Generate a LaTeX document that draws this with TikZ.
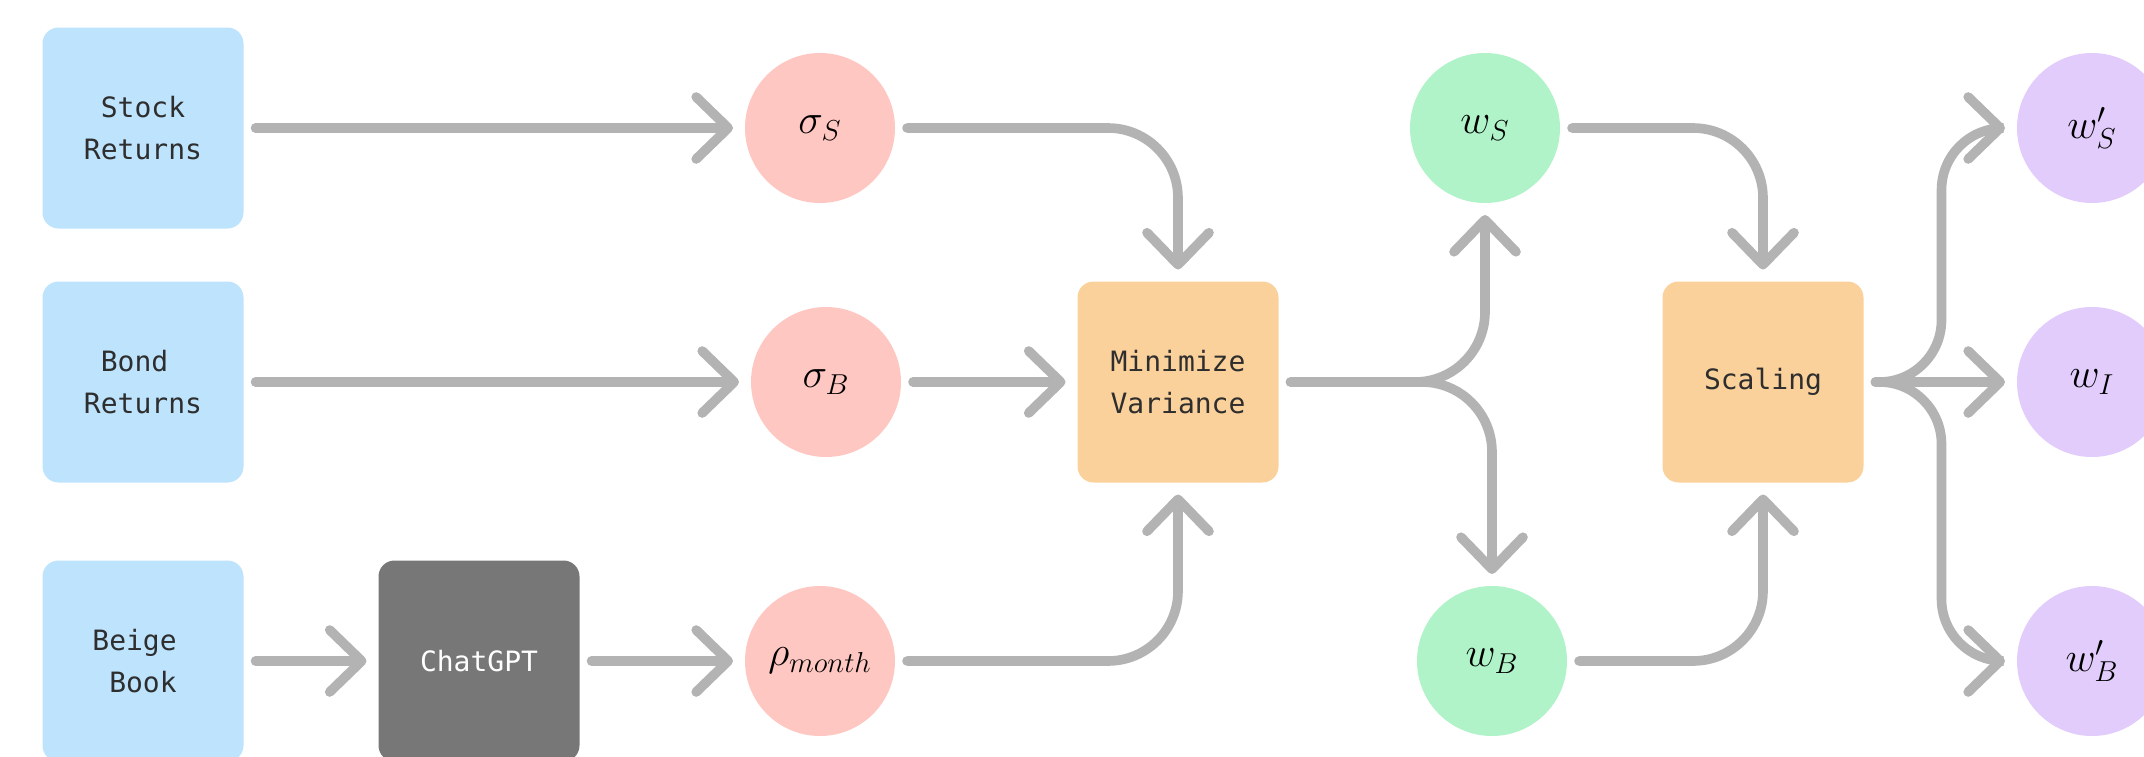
\documentclass[tikz,border=0pt]{standalone}
\usepackage{fontspec}
\setmonofont{DejaVu Sans Mono}
\usetikzlibrary{arrows.meta}
\definecolor{inblue}{HTML}{BDE3FD}
\definecolor{pinkc}{HTML}{FFC7C2}
\definecolor{orng}{HTML}{FBD19B}
\definecolor{grn}{HTML}{B0F3C9}
\definecolor{purp}{HTML}{E1CCFB}
\definecolor{arr}{HTML}{B3B3B3}
\definecolor{gptgray}{HTML}{777777}
\definecolor{txt}{HTML}{2E2E2E}
\begin{document}
\begin{tikzpicture}[x=0.5pt,y=-0.5pt,
  box/.style={rounded corners=8pt, minimum width=100.5pt, minimum height=100.5pt,
    outer sep=6pt, inner sep=0pt, align=center,
    font=\ttfamily\fontsize{14}{21}\selectfont, text=txt},
  circ/.style={circle, minimum size=75pt, inner sep=0pt, outer sep=6pt,
    font=\fontsize{22.5}{26}\selectfont},
  conn/.style={draw=arr, line width=4.8pt, line cap=round, rounded corners=35pt,
    -{Straight Barb[length=16pt,width=31pt,round]}},
  tight/.style={rounded corners=31pt}]
\useasboundingbox (0,0) rectangle (2144,756);
\node[box, fill=inblue] (stock) at (143,128) {Stock\\Returns};
\node[box, fill=inblue] (bond) at (143,382) {Bond\hphantom{x}\\Returns};
\node[box, fill=inblue] (beige) at (143,661) {Beige\hphantom{x}\\\hphantom{x}Book\hphantom{x}};
\node[box, fill=gptgray, text=white] (gpt) at (479,661) {ChatGPT};
\node[circ, fill=pinkc] (sS) at (820,128) {$\sigma_S$};
\node[circ, fill=pinkc] (sB) at (826,382) {$\sigma_B$};
\node[circ, fill=pinkc] (rho) at (820,661) {$\rho_{month}$};
\node[box, fill=orng] (mv) at (1178,382) {Minimize\\Variance};
\node[circ, fill=grn] (wS) at (1485,128) {$w_S$};
\node[circ, fill=grn] (wB) at (1492,661) {$w_B$};
\node[box, fill=orng] (sc) at (1763,382) {Scaling};
\node[circ, fill=purp] (wSp) at (2092,128) {$w'_S$};
\node[circ, fill=purp] (wI) at (2092,382) {$w_I$};
\node[circ, fill=purp] (wBp) at (2092,661) {$w'_B$};

\draw[conn] (stock) -- (sS);
\draw[conn] (bond) -- (sB);
\draw[conn] (beige) -- (gpt);
\draw[conn] (gpt) -- (rho);
\draw[conn] (sB) -- (mv);
\draw[conn] (sS.east) -| (mv.north);
\draw[conn] (rho.east) -| (mv.south);
\draw[conn] (mv.east) -| (wS.south);
\draw[conn] (mv.east) -| (wB.north);
\draw[conn] (wS.east) -| (sc.north);
\draw[conn] (wB.east) -| (sc.south);
\draw[conn, tight] (sc.east) -- ++(66,0) |- (wSp.west);
\draw[conn] (sc) -- (wI);
\draw[conn, tight] (sc.east) -- ++(66,0) |- (wBp.west);
\end{tikzpicture}
\end{document}
